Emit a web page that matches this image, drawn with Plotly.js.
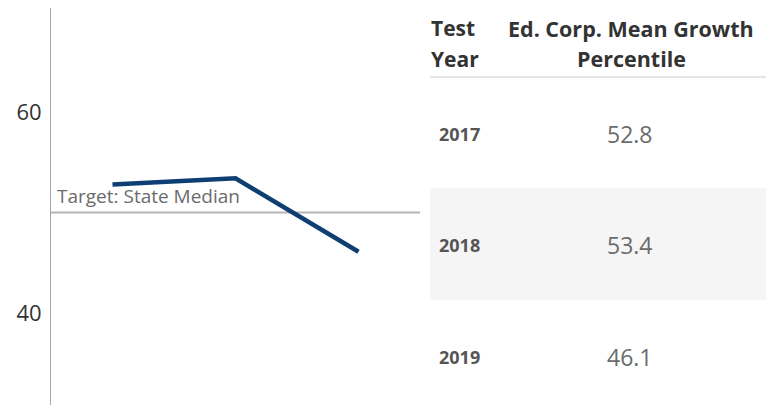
<!DOCTYPE html>
<html>
<head>
<meta charset="utf-8">
<script src="https://cdn.plot.ly/plotly-3.0.1.min.js"></script>
<style>html,body{margin:0;padding:0;background:#fff;}#chart{width:766px;height:406px;}</style>
</head>
<body>
<div id="chart"></div>
<script>
const years = [2017, 2018, 2019];
const growth = [52.8, 53.4, 46.1];
const target = 50;
const targetLabel = "Target: State Median";
const yTicks = [40, 60];
const headerYear = ["Test", "Year"];
const headerValue = ["Ed. Corp. Mean Growth", "Percentile"];

const W = 766, H = 406;
const px = v => v / W;
const py = v => 1 - v / H;
const FONT = "'Open Sans', Lato, sans-serif";

const trace = {
  x: years, y: growth, type: 'scatter', mode: 'lines',
  line: {color: '#0f3f72', width: 4.5}, hoverinfo: 'skip', showlegend: false
};

const rowCenters = [134, 245, 357];
const headerLines = [28, 59];
const annotations = [
  {xref:'x', yref:'y', x: 2016.5, y: target, xanchor:'left', yanchor:'bottom', xshift: 4, yshift: 2,
   text: targetLabel, showarrow:false, font:{family:FONT, size:19, color:'#6b6b6b'}}
];
headerLines.forEach((yy, i) => {
  annotations.push({xref:'paper', yref:'paper', x: px(429), y: py(yy), xanchor:'left', yanchor:'middle',
    text: '<b>'+headerYear[i]+'</b>', showarrow:false, font:{family:FONT, size:21, color:'#333333'}});
  annotations.push({xref:'paper', yref:'paper', x: px(631), y: py(yy), xanchor:'center', yanchor:'middle',
    text: '<b>'+headerValue[i]+'</b>', showarrow:false, font:{family:FONT, size:21.5, color:'#333333'}});
});
years.forEach((yr, i) => {
  annotations.push({xref:'paper', yref:'paper', x: px(437), y: py(rowCenters[i]), xanchor:'left', yanchor:'middle',
    text:'<b>'+yr+'</b>', showarrow:false, font:{family:FONT, size:18, color:'#555555'}});
  annotations.push({xref:'paper', yref:'paper', x: px(630), y: py(rowCenters[i]), xanchor:'center', yanchor:'middle',
    text: growth[i].toFixed(1), showarrow:false, font:{family:FONT, size:23, color:'#6b6b6b'}});
});

const shapes = [
  {type:'line', xref:'paper', yref:'y', x0: px(51), x1: px(420), y0: target, y1: target,
   line:{color:'#b5b5b5', width:2}, layer:'below'},
  {type:'rect', xref:'paper', yref:'paper', x0: px(430), x1: 1, y0: py(300), y1: py(188),
   fillcolor:'#f5f5f5', line:{width:0}, layer:'below'},
  {type:'line', xref:'paper', yref:'paper', x0: px(430), x1: 1, y0: py(77), y1: py(77),
   line:{color:'#dddddd', width:1.5}}
];

const layout = {
  width: W, height: H,
  margin: {l:0, r:0, t:0, b:0},
  paper_bgcolor:'#ffffff', plot_bgcolor:'rgba(0,0,0,0)',
  showlegend: false,
  xaxis: {domain:[px(51), px(420)], range:[2016.5, 2019.5], visible:false, fixedrange:true},
  yaxis: {domain:[py(405), py(8)], range:[30.85, 70.35], showgrid:false, zeroline:false,
          showline:true, linecolor:'#a6a6a6', linewidth:1, ticks:'', tickvals: yTicks,
          ticktext: yTicks.map(String), ticklabelstandoff: 4,
          tickfont:{family:FONT, size:22, color:'#333333'}, fixedrange:true},
  annotations: annotations,
  shapes: shapes
};

Plotly.newPlot('chart', [trace], layout, {displayModeBar:false, staticPlot:true});
</script>
</body>
</html>
